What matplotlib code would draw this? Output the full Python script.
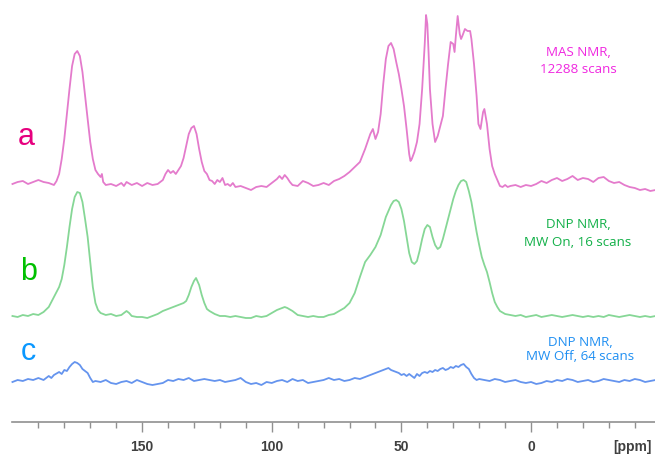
import matplotlib
matplotlib.use('Agg')
import matplotlib.pyplot as plt
from matplotlib.ticker import FixedLocator

# spectrum a: MAS NMR (ppm, intensity)
ppm_a = [200, 198, 196, 194, 192, 190, 188, 186, 184, 183, 182, 181, 180, 179, 178, 177, 176, 175, 174, 173,
         172, 171, 170, 169, 168, 167, 166, 165.5, 165, 164, 162, 160, 158, 157, 156, 154, 152, 150, 148, 146,
         144, 142, 141, 140, 139, 138, 137, 136, 135, 134, 133, 132, 131, 130, 129, 128, 127, 126, 125, 124,
         123, 122, 121, 120, 119, 118, 117, 116, 115, 114, 112, 110, 108, 106, 104, 102, 100, 98, 97, 96,
         95, 94, 93, 92, 90, 88, 86, 84, 82, 80, 78, 76, 74, 72, 70, 68, 66, 64, 62, 61,
         60, 59, 58, 57, 56, 55, 54, 53, 52, 51, 50, 49, 48, 47, 46.5, 46, 45, 44, 43, 42,
         41, 40.5, 40, 39.5, 39, 38, 37, 36, 35, 34, 33, 32, 31, 30, 29.5, 29, 28.3, 27.5, 27, 26.5,
         25.5, 24.5, 23.5, 23, 22, 21, 20.3, 19.5, 18.5, 18, 17, 16, 15, 14, 13, 12, 11, 10, 9, 8,
         6, 4, 2, 0, -2, -4, -6, -8, -10, -12, -14, -16, -18, -20, -22, -24, -26, -28, -30, -32,
         -34, -36, -38, -40, -42, -44, -46, -48]
int_a = [0, 2, 3, 0, 2, 4, 2, 1, -1, 3, 10, 25, 45, 70, 95, 118, 130, 133, 128, 112,
         88, 65, 42, 25, 14, 10, 7, 10, 2, -1, 0, -2, 1, -2, 2, -1, 1, -2, 1, -1,
         0, 4, 10, 14, 11, 13, 10, 14, 18, 26, 38, 50, 56, 58, 50, 35, 22, 13, 10, 4,
         3, 0, 4, 2, 6, -1, 0, -2, 1, -3, -2, -4, -6, -3, -2, -3, 1, 5, 8, 5,
         9, 6, 2, -1, -2, 3, 1, -2, -1, 1, -1, 3, 5, 8, 12, 17, 22, 35, 50, 55,
         45, 52, 70, 100, 125, 138, 141, 135, 122, 110, 95, 78, 55, 30, 23, 25, 32, 42, 60, 95,
         140, 169, 160, 130, 95, 60, 42, 48, 58, 68, 95, 120, 142, 140, 132, 148, 168, 150, 145, 148,
         155, 153, 153, 145, 120, 88, 60, 55, 72, 75, 60, 35, 18, 10, 4, -2, -3, -1, -3, -2,
         -1, -3, -1, -2, 0, 3, 1, 4, 6, 3, 5, 8, 4, 6, 5, 2, 6, 7, 3, 1,
         2, -1, -3, -4, -6, -5, -7, -6]

# spectrum b: DNP NMR, MW on
ppm_b = [200, 198, 196, 194, 192, 190, 188, 186, 185, 184, 183, 182, 181, 180, 179, 178, 177, 176, 175, 174,
         173, 172, 171, 170, 169, 168, 167, 166, 164, 162, 160, 158, 157, 156, 155, 154, 152, 150, 148, 146,
         144, 142, 140, 138, 136, 134, 133, 132, 131, 130, 129.2, 128, 127, 126, 125, 124, 122, 120, 118, 116,
         114, 112, 110, 108, 106, 104, 102, 100, 98, 96, 95, 94, 92, 90, 88, 86, 84, 82, 80, 78,
         76, 74, 72, 70, 68, 66, 64, 62, 60, 58, 56, 54, 53, 52, 51, 50, 49, 48, 47, 46,
         45, 44, 43, 42, 41, 40, 39, 38, 37, 36, 35, 34, 33, 32, 31, 30, 29, 28, 27, 26,
         25, 24, 23, 22, 21, 20, 19, 18, 17, 16, 15, 14, 13, 12, 10, 8, 6, 4, 2, 0,
         -2, -4, -6, -8, -10, -12, -14, -16, -18, -20, -22, -24, -26, -28, -30, -32, -34, -36, -38, -40,
         -42, -44, -46, -48]
int_b = [1, 0, 2, 1, 3, 2, 5, 10, 15, 20, 25, 30, 38, 52, 70, 90, 108, 120, 125, 124,
         115, 98, 80, 55, 30, 14, 7, 4, 2, 3, 1, 2, 4, 6, 4, 1, 0, 0, -1, 1,
         3, 6, 8, 10, 12, 14, 16, 22, 30, 36, 39, 32, 22, 14, 8, 6, 3, 1, 1, 0,
         1, 0, -1, -1, 1, 0, 1, 4, 7, 9, 10, 9, 6, 2, 1, 0, 1, 0, 0, 2,
         3, 6, 9, 14, 24, 40, 55, 62, 70, 82, 100, 112, 116, 117, 115, 108, 96, 80, 64, 55,
         53, 56, 66, 78, 88, 92, 90, 80, 72, 68, 70, 78, 88, 98, 108, 118, 126, 132, 136, 137,
         135, 126, 115, 100, 85, 72, 60, 52, 45, 35, 24, 15, 10, 6, 3, 2, 1, 2, 0, 1,
         2, 0, 1, 2, 1, 0, 1, 2, 1, 0, 1, 0, 1, 0, 2, 1, 0, 1, 2, 1,
         0, 1, 0, 1]

# spectrum c: DNP NMR, MW off
ppm_c = [200, 198, 196, 194, 192, 190, 188, 186, 185, 184, 182, 181, 180, 179, 178, 177, 176, 175, 174, 173,
         172, 171, 170, 169, 168, 166, 164, 162, 160, 158, 156, 154, 152, 150, 148, 146, 144, 142, 140, 138,
         136, 134, 132, 130, 128, 126, 124, 122, 120, 118, 116, 114, 112, 110, 108, 106, 104, 102, 100, 98,
         96, 94, 92, 90, 88, 86, 84, 82, 80, 78, 76, 74, 72, 70, 68, 66, 64, 62, 60, 58,
         56, 55, 54, 53, 52, 51, 50, 49, 48, 47, 46, 45, 44, 43, 42, 41, 40, 39, 38, 37,
         36, 35, 34, 33, 32, 31, 30, 29, 28, 27, 26, 25, 24, 23, 22, 21, 20, 18, 16, 14,
         12, 10, 8, 6, 4, 2, 0, -2, -4, -6, -8, -10, -12, -14, -16, -18, -20, -22, -24, -26,
         -28, -30, -32, -34, -36, -38, -40, -42, -44, -46, -48]
int_c = [-1, 1, 0, 2, 1, 3, 1, 5, 3, 6, 9, 7, 11, 10, 14, 17, 19, 18, 16, 12,
         10, 8, 3, -1, 0, -1, 1, -2, -3, -1, 0, -2, 1, -1, -3, -4, -3, -2, 1, 0,
         2, 1, 3, 0, 1, 2, 1, 0, 1, -1, 0, 1, 3, -1, -3, -2, -4, -1, -2, 0,
         1, -1, 2, 0, 1, -2, -1, 0, 1, 3, 1, 2, 0, 1, 3, 2, 4, 6, 8, 10,
         12, 13, 11, 10, 9, 8, 6, 7, 5, 7, 5, 3, 7, 5, 8, 9, 8, 10, 9, 11,
         10, 12, 13, 11, 12, 14, 13, 15, 14, 16, 17, 14, 12, 7, 3, 1, 2, 1, 0, 2,
         1, -1, 0, 1, -1, -2, -1, -3, -2, 0, -1, 1, 0, 2, 1, -1, 0, 1, -1, 0,
         2, 1, 0, -1, 1, 0, 2, 1, -1, 0, 1]

labels = ['a', 'b', 'c']
notes = [['MAS NMR,', '12288 scans'],
         ['DNP NMR,', 'MW On, 16 scans'],
         ['DNP NMR,', 'MW Off, 64 scans']]

offsets = [271, 138, 74]
line_colors = ['#E47BCC', '#86D796', '#6594EE']
letter_colors = ['#E6007E', '#00C000', '#0A98FF']
note_colors = ['#F028E0', '#12B048', '#1F8FF2']

fig = plt.figure(figsize=(6.55, 4.56), dpi=100)
ax = fig.add_axes([0, 0, 1, 1])
ax.set_xlim(204.8, -47.8)
ax.set_ylim(0, 456)

spectra = [(ppm_a, int_a), (ppm_b, int_b), (ppm_c, int_c)]
for (x, y), off, col in zip(spectra, offsets, line_colors):
    ax.plot(x, [v + off for v in y], color=col, linewidth=1.3, solid_joinstyle='round')

# big letters on the left
letter_pos = [(197.8, 311), (197.1, 176), (196.7, 96)]
for lab, (lx, ly), col in zip(labels, letter_pos, letter_colors):
    ax.text(lx, ly, lab, color=col, fontsize=22, family='Liberation Sans',
            ha='left', va='baseline')

# notes on the right
note_pos = [(-18.1, 404, 387), (-18.1, 231, 213), (-18.9, 114, 99)]
for lines, (nx, y1, y2), col in zip(notes, note_pos, note_colors):
    ax.text(nx, y1, lines[0], color=col, fontsize=9.6, family='Open Sans', ha='center', va='center')
    ax.text(nx, y2, lines[1], color=col, fontsize=9.6, family='Open Sans', ha='center', va='center')

# ppm axis
for s in ['left', 'right', 'top']:
    ax.spines[s].set_visible(False)
ax.spines['bottom'].set_position(('data', 33))
ax.spines['bottom'].set_bounds(200, -47.8)
ax.spines['bottom'].set_color('#909090')
ax.spines['bottom'].set_linewidth(1.2)
ax.yaxis.set_visible(False)
ax.xaxis.set_major_locator(FixedLocator([150, 100, 50, 0]))
ax.xaxis.set_minor_locator(FixedLocator([190, 180, 170, 160, 140, 130, 120, 110, 90, 80, 70, 60,
                                         40, 30, 20, 10, -10, -20, -30, -40]))
ax.tick_params(axis='x', which='major', direction='out', length=7, width=1, color='#909090',
               pad=5, labelsize=10, labelcolor='#404040')
ax.tick_params(axis='x', which='minor', direction='out', length=4, width=1, color='#909090')
for t in ax.get_xticklabels():
    t.set_fontweight('bold')
    t.set_family('Liberation Sans')
ax.text(-39, 9, '[ppm]', color='#404040', fontsize=10, fontweight='bold',
        family='Liberation Sans', ha='center', va='center')

fig.savefig('out.png', dpi=100)
